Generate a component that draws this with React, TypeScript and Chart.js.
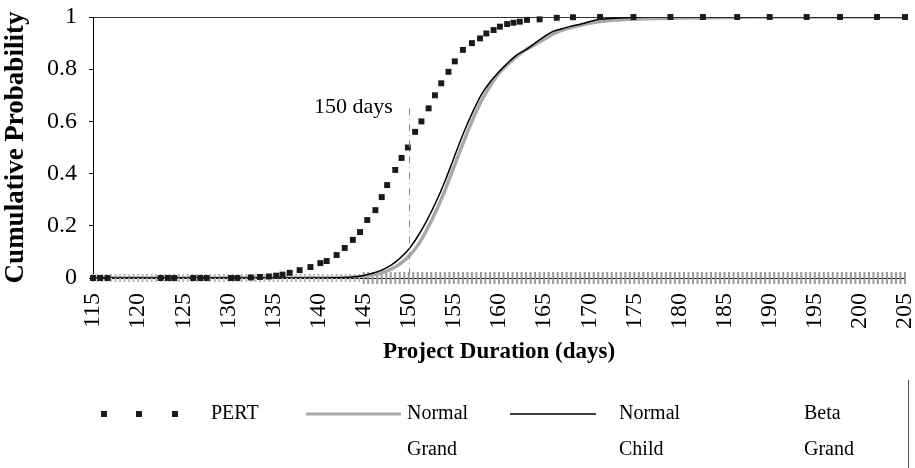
import React, { useEffect, useRef } from "react";
import { Chart, registerables } from "chart.js";

Chart.register(...registerables);

const FONT = "'Liberation Serif', 'Times New Roman', serif";

// ---- data ----
const xTickValues = [115, 120, 125, 130, 135, 140, 145, 150, 155, 160, 165, 170, 175, 180, 185, 190, 195, 200, 205];
const yTickValues = [0, 0.2, 0.4, 0.6, 0.8, 1];
const yTickLabels = ["0", "0.2", "0.4", "0.6", "0.8", "1"];

const pertX = [
  115, 115.8, 116.6, 122.5, 123.3, 124, 126.1, 126.9, 127.6, 130.3, 131, 132.5, 133.5, 134.5,
  135.3, 136, 136.8, 137.9, 139.1, 140.2, 140.9, 142.0, 142.9, 143.8, 144.6, 145.4, 146.3, 147.0,
  147.6, 148.5, 149.2, 149.9, 150.7, 151.4, 152.2, 152.9, 153.6, 154.4, 155.1, 156.0, 157.0,
  157.9, 158.6, 159.4, 160.1, 160.9, 161.6, 162.3, 163.1, 164.5, 166.4, 168.2, 171.2, 174.9,
  179.0, 182.6, 186.4, 190.0, 194.1, 197.8, 201.9, 205,
];
const pertY = [
  0, 0, 0, 0, 0, 0, 0, 0, 0, 0, 0, 0.002, 0.004, 0.006,
  0.009, 0.013, 0.02, 0.03, 0.042, 0.057, 0.065, 0.088, 0.115, 0.146, 0.176, 0.222, 0.26, 0.31,
  0.356, 0.414, 0.46, 0.5, 0.56, 0.6, 0.65, 0.7, 0.746, 0.79, 0.83, 0.874, 0.9,
  0.918, 0.937, 0.95, 0.963, 0.973, 0.978, 0.982, 0.989, 0.991, 0.997, 0.999, 1, 1,
  1, 1, 1, 1, 1, 1, 1, 1,
];

const normalDays = [
  115, 120, 125, 130, 135, 140, 142, 143, 144, 145, 146, 147, 148, 149, 150, 151, 152, 153, 154, 155,
  156, 157, 158, 159, 160, 161, 162, 163, 164, 165, 166, 167, 168, 169, 170, 171, 172, 174, 176, 180,
  185, 190, 195, 200, 205,
];
const normalGrand = [
  0, 0, 0, 0, 0, 0, 0, 0.001, 0.003, 0.006, 0.012, 0.02, 0.033, 0.053, 0.083, 0.125, 0.185, 0.255, 0.335, 0.425,
  0.515, 0.6, 0.675, 0.735, 0.785, 0.82, 0.85, 0.875, 0.895, 0.915, 0.935, 0.95, 0.96, 0.968, 0.976, 0.982, 0.986, 0.99, 0.993, 0.996,
  0.998, 1, 1, 1, 1,
];
const normalChild = [
  0, 0, 0, 0, 0, 0, 0.001, 0.002, 0.005, 0.01, 0.018, 0.03, 0.048, 0.075, 0.11, 0.16, 0.22, 0.29, 0.37, 0.46,
  0.55, 0.63, 0.7, 0.75, 0.79, 0.825, 0.855, 0.875, 0.9, 0.925, 0.945, 0.955, 0.965, 0.972, 0.982, 0.99, 0.993, 0.997, 1, 1,
  1, 1, 1, 1, 1,
];

// Beta Grand: observations sitting along zero
const betaX = [
  115, 115.5, 116, 116.5, 117, 117.5, 118, 118.5, 119, 119.5, 120, 120.5, 121, 121.5, 122, 122.5, 123, 123.5, 124, 124.5,
  125, 125.5, 126, 126.5, 127, 127.5, 128, 128.5, 129, 129.5, 130, 130.5, 131, 131.5, 132, 132.5, 133, 133.5, 134, 134.5,
  135, 135.5, 136, 136.5, 137, 137.5, 138, 138.5, 139, 139.5, 140, 140.5, 141, 141.5, 142, 142.5, 143, 143.5, 144, 144.5,
  145, 145.5, 146, 146.5, 147, 147.5, 148, 148.5, 149, 149.5, 150, 150.5, 151, 151.5, 152, 152.5, 153, 153.5, 154, 154.5,
  155, 155.5, 156, 156.5, 157, 157.5, 158, 158.5, 159, 159.5, 160, 160.5, 161, 161.5, 162, 162.5, 163, 163.5, 164, 164.5,
  165, 165.5, 166, 166.5, 167, 167.5, 168, 168.5, 169, 169.5, 170, 170.5, 171, 171.5, 172, 172.5, 173, 173.5, 174, 174.5,
  175, 175.5, 176, 176.5, 177, 177.5, 178, 178.5, 179, 179.5, 180, 180.5, 181, 181.5, 182, 182.5, 183, 183.5, 184, 184.5,
  185, 185.5, 186, 186.5, 187, 187.5, 188, 188.5, 189, 189.5, 190, 190.5, 191, 191.5, 192, 192.5, 193, 193.5, 194, 194.5,
  195, 195.5, 196, 196.5, 197, 197.5, 198, 198.5, 199, 199.5, 200, 200.5, 201, 201.5, 202, 202.5, 203, 203.5, 204, 204.5, 205,
];

const seriesNames = ["PERT", "Normal Grand", "Normal Child", "Beta Grand"];
const annotationDay = 150;
const annotationText = "150 days";
const xTitle = "Project Duration (days)";
const yTitle = "Cumulative Probability";

const annotationPlugin = {
  id: "annot",
  afterDatasetsDraw(chart: any) {
    const { ctx, scales } = chart;
    const x = scales.x.getPixelForValue(annotationDay);
    const yTop = scales.y.getPixelForValue(0.65);
    const yBot = scales.y.getPixelForValue(0);
    ctx.save();
    ctx.strokeStyle = "#8a8a8a";
    ctx.lineWidth = 1;
    ctx.setLineDash([7, 4, 1, 4]);
    ctx.beginPath();
    ctx.moveTo(Math.round(x) + 0.5, yTop);
    ctx.lineTo(Math.round(x) + 0.5, yBot);
    ctx.stroke();
    ctx.setLineDash([]);
    ctx.fillStyle = "#000";
    ctx.font = `22px ${FONT}`;
    ctx.textAlign = "right";
    ctx.textBaseline = "middle";
    ctx.fillText(annotationText, x - 16, scales.y.getPixelForValue(0.655));
    ctx.restore();
  },
};

const legendPlugin = {
  id: "customLegend",
  afterDraw(chart: any) {
    const { ctx } = chart;
    const y1 = 414;
    const y2 = 450;
    ctx.save();
    ctx.font = `20px ${FONT}`;
    ctx.fillStyle = "#000";
    ctx.textAlign = "left";
    ctx.textBaseline = "middle";
    // PERT swatch
    ctx.fillStyle = "#1a1a1a";
    [104, 139, 175].forEach((cx) => ctx.fillRect(cx - 3, y1 - 3, 6, 6));
    ctx.fillStyle = "#000";
    ctx.fillText(seriesNames[0], 211, y1);
    // Normal Grand swatch
    ctx.strokeStyle = "#a8a8a8";
    ctx.lineWidth = 3;
    ctx.beginPath();
    ctx.moveTo(306, y1);
    ctx.lineTo(401, y1);
    ctx.stroke();
    ctx.fillText("Normal", 407, y1);
    ctx.fillText("Grand", 407, y2);
    // Normal Child swatch
    ctx.strokeStyle = "#000";
    ctx.lineWidth = 1.5;
    ctx.beginPath();
    ctx.moveTo(510, y1);
    ctx.lineTo(596, y1);
    ctx.stroke();
    ctx.fillText("Normal", 619, y1);
    ctx.fillText("Child", 619, y2);
    // Beta Grand (no swatch)
    ctx.fillText("Beta", 804, y1);
    ctx.fillText("Grand", 804, y2);
    // legend frame edge
    ctx.strokeStyle = "#555";
    ctx.lineWidth = 1;
    ctx.beginPath();
    ctx.moveTo(908.5, 380);
    ctx.lineTo(908.5, 468);
    ctx.stroke();
    ctx.restore();
  },
};

export default function App() {
  const canvasRef = useRef<HTMLCanvasElement | null>(null);

  useEffect(() => {
    if (!canvasRef.current) return;
    const chart = new Chart(canvasRef.current, {
      type: "line",
      data: {
        datasets: [
          {
            label: seriesNames[0],
            data: pertX.map((x, i) => ({ x, y: pertY[i] })),
            showLine: false,
            pointStyle: "rect",
            pointRadius: 4.2,
            pointBackgroundColor: "#1a1a1a",
            pointBorderWidth: 0,
            borderColor: "#1a1a1a",
            clip: false,
          },
          {
            label: seriesNames[2],
            data: normalDays.map((x, i) => ({ x, y: normalChild[i] })),
            borderColor: "#000",
            borderWidth: 1.5,
            pointRadius: 0,
            cubicInterpolationMode: "monotone",
          },
          {
            label: seriesNames[1],
            data: normalDays.map((x, i) => ({ x, y: normalGrand[i] })),
            borderColor: "#a8a8a8",
            borderWidth: 3.5,
            pointRadius: 0,
            cubicInterpolationMode: "monotone",
          },
          {
            label: seriesNames[3],
            data: betaX.map((x) => ({ x, y: 0 })),
            showLine: false,
            pointStyle: "line",
            pointRotation: 90,
            pointRadius: (c: any) => (c.raw && c.raw.x < 145 ? 4 : 6),
            pointBorderColor: (c: any) => (c.raw && c.raw.x < 145 ? "#b8b8b8" : "#999999"),
            pointBorderWidth: 2,
            borderColor: "#999999",
            clip: false,
          },
        ],
      },
      options: {
        animation: false,
        responsive: true,
        maintainAspectRatio: false,
        layout: { padding: { top: 17, right: 10, bottom: 100, left: 0 } },
        plugins: { legend: { display: false }, tooltip: { enabled: false } },
        scales: {
          x: {
            type: "linear",
            min: 115,
            max: 205,
            afterBuildTicks: (scale: any) => {
              scale.ticks = xTickValues.map((v) => ({ value: v }));
            },
            afterFit: (scale: any) => {
              scale.height = 90;
              scale.paddingLeft = 0;
              scale.paddingRight = 0;
            },
            ticks: {
              autoSkip: false,
              maxRotation: 90,
              minRotation: 90,
              padding: 7,
              color: "#000",
              font: { family: FONT, size: 24 },
              callback: (v: any) => String(v),
            },
            grid: { display: false },
            border: { display: true, color: "#000", width: 1 },
            title: {
              display: true,
              text: xTitle,
              color: "#000",
              padding: { top: 2, bottom: 2 },
              font: { family: FONT, size: 23, weight: "bold" },
            },
          },
          y: {
            min: 0,
            max: 1,
            afterBuildTicks: (scale: any) => {
              scale.ticks = yTickValues.map((v) => ({ value: v }));
            },
            afterFit: (scale: any) => {
              scale.width = 93;
              scale.paddingTop = 0;
              scale.paddingBottom = 0;
            },
            ticks: {
              padding: 12,
              color: "#000",
              font: { family: FONT, size: 24 },
              callback: (v: any) => yTickLabels[yTickValues.indexOf(Number(v))] ?? "",
            },
            grid: {
              drawTicks: true,
              tickLength: 4,
              tickColor: "#000",
              color: (c: any) => (c.tick && c.tick.value === 1 ? "#333" : "rgba(0,0,0,0)"),
            },
            border: { display: true, color: "#000", width: 1 },
            title: {
              display: true,
              text: yTitle,
              color: "#000",
              padding: { top: 0, bottom: 0 },
              font: { family: FONT, size: 27, weight: "bold" },
            },
          },
        },
      },
      plugins: [annotationPlugin, legendPlugin],
    } as any);
    return () => chart.destroy();
  }, []);

  return (
    <div style={{ position: "fixed", left: 0, top: 0, width: 915, height: 468, background: "#fff" }}>
      <canvas ref={canvasRef} />
    </div>
  );
}
